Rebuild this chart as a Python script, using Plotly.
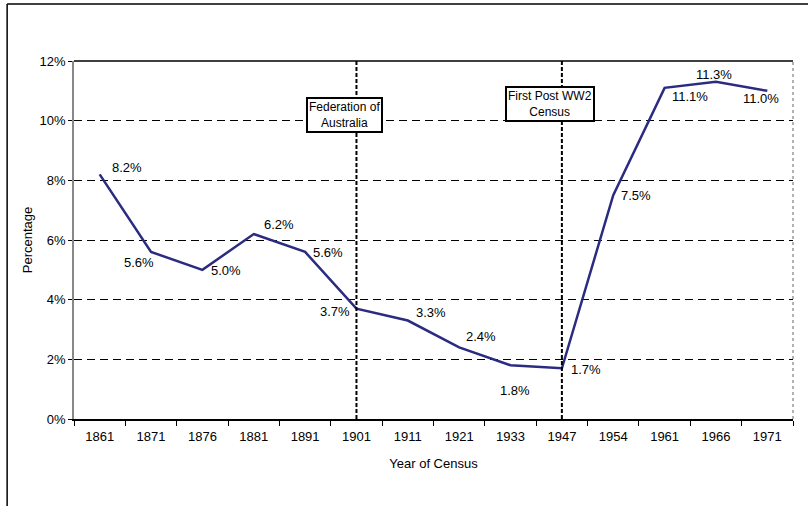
import plotly.graph_objects as go

years = ["1861", "1871", "1876", "1881", "1891", "1901", "1911", "1921", "1933", "1947", "1954", "1961", "1966", "1971"]
pct = [8.2, 5.6, 5.0, 6.2, 5.6, 3.7, 3.3, 2.4, 1.8, 1.7, 7.5, 11.1, 11.3, 11.0]
label_text = ["8.2%", "5.6%", "5.0%", "6.2%", "5.6%", "3.7%", "3.3%", "2.4%", "1.8%", "1.7%", "7.5%", "11.1%", "11.3%", "11.0%"]
y_ticks = [0, 2, 4, 6, 8, 10, 12]
y_tick_labels = ["0%", "2%", "4%", "6%", "8%", "10%", "12%"]

# label offsets in px (style only)
label_dx = [27, -12, 24, 25, 23, -21, 23, 22, 4, 24, 23, 25, -2, -6]
label_dy = [7, -11, -1, 10, -1, -3, 8, 11, -25, -1, 0, -9, 7, -8]

events = [("1901", 10.2, "Federation of<br>Australia"), ("1947", 10.55, "First Post WW2<br>Census")]

FONT = "Liberation Sans, Arial, sans-serif"
fig = go.Figure()
fig.add_trace(go.Scatter(x=years, y=pct, mode="lines",
                         line=dict(color="#2B2B80", width=2.5), hoverinfo="skip"))

ann = []
for i, (y, t, dx, dy) in enumerate(zip(pct, label_text, label_dx, label_dy)):
    ann.append(dict(x=i, y=y, xref="x", yref="y", text=t, showarrow=False, xshift=dx, yshift=dy,
                    font=dict(size=13, color="black", family=FONT)))
for x, y, t in events:
    ann.append(dict(x=years.index(x), y=y, xref="x", yref="y", text=t, showarrow=False, xshift=-12,
                    bgcolor="white", bordercolor="black", borderwidth=2, borderpad=1,
                    font=dict(size=12, color="black", family=FONT)))

shapes = []
for x, _, _ in events:
    xi = years.index(x)
    shapes.append(dict(type="line", xref="x", yref="paper", x0=xi, x1=xi, y0=0, y1=1,
                       line=dict(color="black", width=2, dash="4px,2px"), layer="above"))
# top border of plot area (solid) and right border (grey dotted)
shapes.append(dict(type="line", xref="paper", yref="paper", x0=0, x1=1, y0=1, y1=1,
                   line=dict(color="black", width=1.5)))
shapes.append(dict(type="line", xref="paper", yref="paper", x0=1, x1=1, y0=0, y1=1,
                   line=dict(color="#999999", width=1.5, dash="dot")))
# outer chart frame (top and left visible)
shapes.append(dict(type="line", xref="paper", yref="paper", x0=-0.093, x1=1.03, y0=1.159, y1=1.159,
                   line=dict(color="black", width=1.5)))
shapes.append(dict(type="line", xref="paper", yref="paper", x0=-0.093, x1=-0.093, y0=1.159, y1=-0.3,
                   line=dict(color="black", width=1.5)))

fig.update_layout(
    width=808, height=506,
    margin=dict(l=74, r=15, t=61, b=87),
    paper_bgcolor="white", plot_bgcolor="white",
    showlegend=False,
    font=dict(family=FONT, size=13, color="black"),
    annotations=ann, shapes=shapes,
    xaxis=dict(type="category", range=[-0.5, 13.5], showgrid=False,
               showline=True, linecolor="black", linewidth=1.5,
               ticks="outside", tickson="boundaries", ticklen=5, tickcolor="black",
               ticklabelstandoff=5,
               tickfont=dict(size=13, family=FONT),
               title=dict(text="Year of Census", font=dict(size=13, family=FONT), standoff=16)),
    yaxis=dict(range=[0, 12], tickvals=y_ticks, ticktext=y_tick_labels,
               showgrid=True, gridcolor="black", gridwidth=1, griddash="8px,5px",
               showline=True, linecolor="#888888", linewidth=1.5,
               ticks="outside", ticklen=4, tickcolor="black",
               tickfont=dict(size=13, family=FONT), zeroline=False,
               title=dict(text="Percentage", font=dict(size=13, family=FONT), standoff=4)),
)

fig.write_html("out.html", config={"displayModeBar": False})
with open("out.html", "r", encoding="utf-8") as f:
    html = f.read()
html = html.replace("<head>", "<head><style>html,body{margin:0;padding:0;}</style>", 1)
with open("out.html", "w", encoding="utf-8") as f:
    f.write(html)
